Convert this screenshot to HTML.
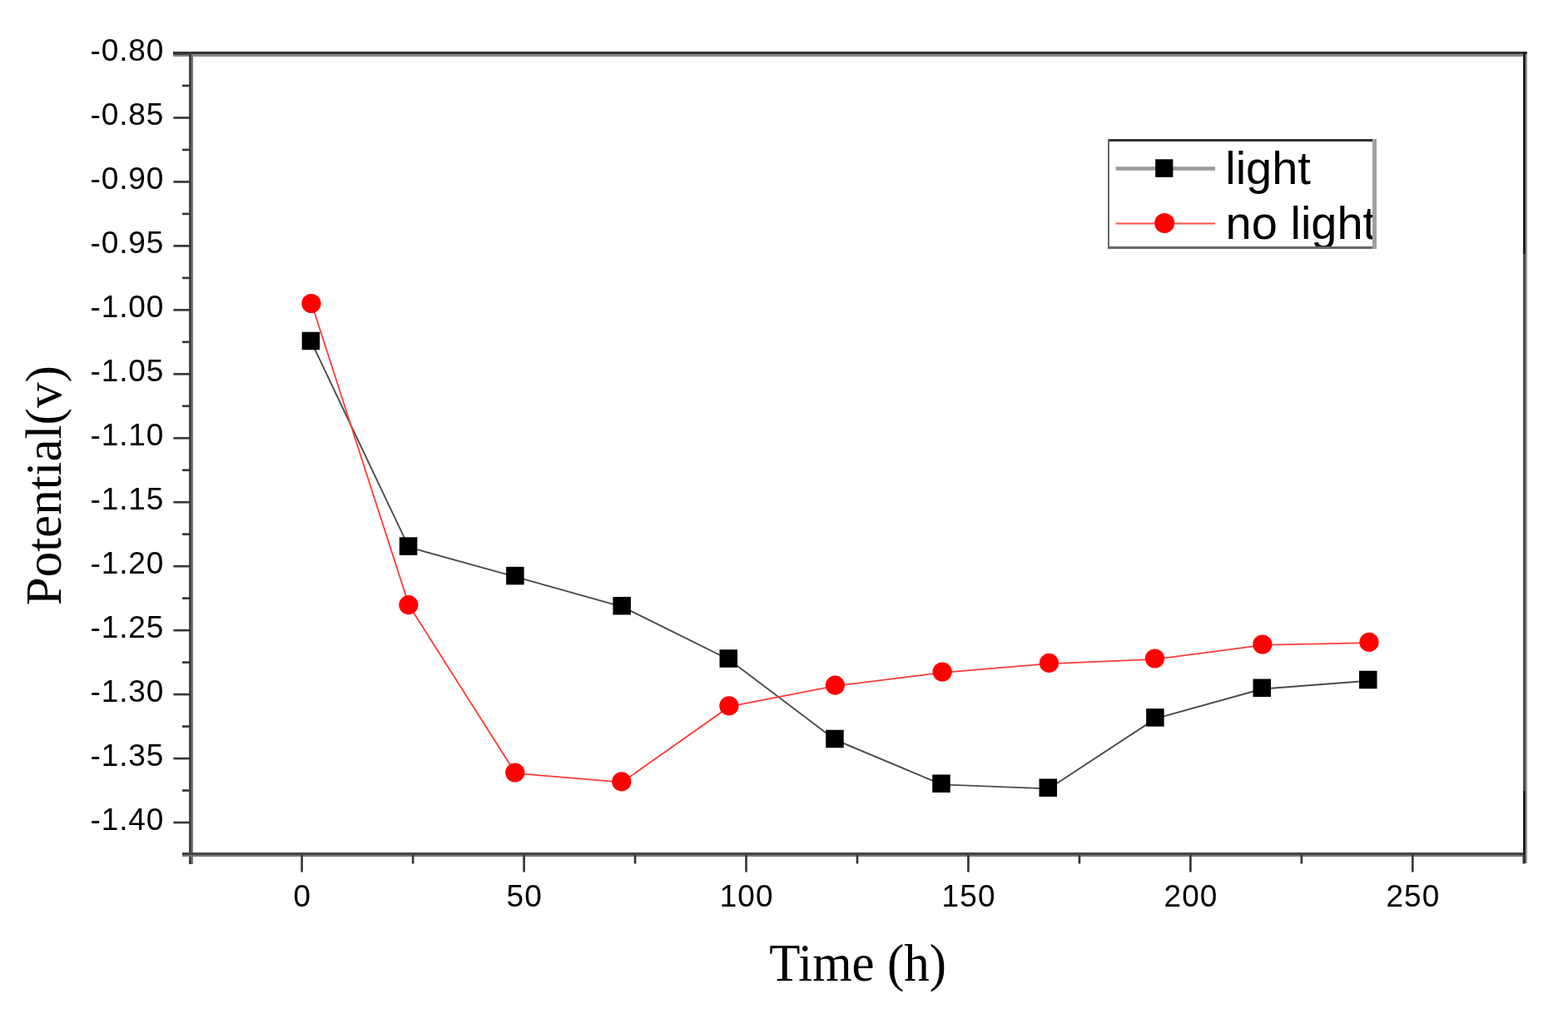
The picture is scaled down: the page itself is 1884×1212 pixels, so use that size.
<!DOCTYPE html><html><head><meta charset="utf-8"><style>html,body{margin:0;padding:0;background:#fff;overflow:hidden}svg{display:block}</style></head><body>
<svg width="1884" height="1212" viewBox="0 0 1884 1212">
<rect width="1884" height="1212" fill="#fff"/>
<g shape-rendering="crispEdges">
<rect x="208" y="62" width="1627" height="3" fill="#333"/>
<rect x="208" y="65" width="1627" height="2.5" fill="#888"/>
<rect x="227" y="62" width="2.7" height="976" fill="#444"/>
<rect x="229.7" y="65" width="2.5" height="973" fill="#777"/>
<rect x="219" y="1024.2" width="1616" height="2.6" fill="#444"/>
<rect x="219" y="1026.8" width="1616" height="2.6" fill="#777"/>
<rect x="1830" y="62" width="2.5" height="243" fill="#222"/>
<rect x="1830" y="305" width="2.5" height="645" fill="#4a4a4a"/>
<rect x="1830" y="950" width="2.5" height="87" fill="#222"/>
<rect x="1832.5" y="65" width="2.5" height="972" fill="#999"/>
</g>
<g stroke="#383838" stroke-width="2.7"><line x1="208.4" y1="64.50" x2="229" y2="64.50"/><line x1="219" y1="102.98" x2="229" y2="102.98"/><line x1="208.4" y1="141.46" x2="229" y2="141.46"/><line x1="219" y1="179.94" x2="229" y2="179.94"/><line x1="208.4" y1="218.42" x2="229" y2="218.42"/><line x1="219" y1="256.90" x2="229" y2="256.90"/><line x1="208.4" y1="295.38" x2="229" y2="295.38"/><line x1="219" y1="333.86" x2="229" y2="333.86"/><line x1="208.4" y1="372.34" x2="229" y2="372.34"/><line x1="219" y1="410.82" x2="229" y2="410.82"/><line x1="208.4" y1="449.30" x2="229" y2="449.30"/><line x1="219" y1="487.78" x2="229" y2="487.78"/><line x1="208.4" y1="526.26" x2="229" y2="526.26"/><line x1="219" y1="564.74" x2="229" y2="564.74"/><line x1="208.4" y1="603.22" x2="229" y2="603.22"/><line x1="219" y1="641.70" x2="229" y2="641.70"/><line x1="208.4" y1="680.18" x2="229" y2="680.18"/><line x1="219" y1="718.66" x2="229" y2="718.66"/><line x1="208.4" y1="757.14" x2="229" y2="757.14"/><line x1="219" y1="795.62" x2="229" y2="795.62"/><line x1="208.4" y1="834.10" x2="229" y2="834.10"/><line x1="219" y1="872.58" x2="229" y2="872.58"/><line x1="208.4" y1="911.06" x2="229" y2="911.06"/><line x1="219" y1="949.54" x2="229" y2="949.54"/><line x1="208.4" y1="988.02" x2="229" y2="988.02"/><line x1="362.70" y1="1027" x2="362.70" y2="1047.5"/><line x1="496.16" y1="1027" x2="496.16" y2="1037.5"/><line x1="629.62" y1="1027" x2="629.62" y2="1047.5"/><line x1="763.09" y1="1027" x2="763.09" y2="1037.5"/><line x1="896.55" y1="1027" x2="896.55" y2="1047.5"/><line x1="1030.01" y1="1027" x2="1030.01" y2="1037.5"/><line x1="1163.47" y1="1027" x2="1163.47" y2="1047.5"/><line x1="1296.94" y1="1027" x2="1296.94" y2="1037.5"/><line x1="1430.40" y1="1027" x2="1430.40" y2="1047.5"/><line x1="1563.86" y1="1027" x2="1563.86" y2="1037.5"/><line x1="1697.33" y1="1027" x2="1697.33" y2="1047.5"/><line x1="1830.79" y1="1027" x2="1830.79" y2="1037.5"/></g>
<g font-family="Liberation Sans, Arial, sans-serif" font-size="37" letter-spacing="0.9" fill="#000"><text x="197.3" y="73.20" text-anchor="end">-0.80</text><text x="197.3" y="150.16" text-anchor="end">-0.85</text><text x="197.3" y="227.12" text-anchor="end">-0.90</text><text x="197.3" y="304.08" text-anchor="end">-0.95</text><text x="197.3" y="381.04" text-anchor="end">-1.00</text><text x="197.3" y="458.00" text-anchor="end">-1.05</text><text x="197.3" y="534.96" text-anchor="end">-1.10</text><text x="197.3" y="611.92" text-anchor="end">-1.15</text><text x="197.3" y="688.88" text-anchor="end">-1.20</text><text x="197.3" y="765.84" text-anchor="end">-1.25</text><text x="197.3" y="842.80" text-anchor="end">-1.30</text><text x="197.3" y="919.76" text-anchor="end">-1.35</text><text x="197.3" y="996.72" text-anchor="end">-1.40</text></g>
<g font-family="Liberation Sans, Arial, sans-serif" font-size="37" letter-spacing="1.1" fill="#000"><text x="363.30" y="1088.5" text-anchor="middle">0</text><text x="630.23" y="1088.5" text-anchor="middle">50</text><text x="897.15" y="1088.5" text-anchor="middle">100</text><text x="1164.07" y="1088.5" text-anchor="middle">150</text><text x="1431.00" y="1088.5" text-anchor="middle">200</text><text x="1697.92" y="1088.5" text-anchor="middle">250</text></g>
<text transform="translate(924.2,1177.6) scale(0.975,1)" font-family="Liberation Serif, Times New Roman, serif" font-size="62.5" fill="#000">Time (h)</text>
<text transform="translate(72.5,727.3) rotate(-90)" font-family="Liberation Serif, Times New Roman, serif" font-size="61" fill="#000">Potential(v)</text>
<polyline points="374.1,410.7 491.2,657.3 619.5,692.8 747.8,728.9 875.9,792.2 1003.6,888.7 1131.6,942.4 1259.9,947.4 1388.5,863.1 1516.9,827.5 1644.4,817.7" fill="none" stroke="#4a4a4a" stroke-width="1.9"/>
<g fill="#000"><rect x="362.75" y="398.75" width="21.5" height="21.5"/><rect x="479.85" y="645.35" width="21.5" height="21.5"/><rect x="608.15" y="680.85" width="21.5" height="21.5"/><rect x="736.45" y="716.95" width="21.5" height="21.5"/><rect x="864.55" y="780.25" width="21.5" height="21.5"/><rect x="992.25" y="876.75" width="21.5" height="21.5"/><rect x="1120.25" y="930.45" width="21.5" height="21.5"/><rect x="1248.55" y="935.45" width="21.5" height="21.5"/><rect x="1377.15" y="851.15" width="21.5" height="21.5"/><rect x="1505.55" y="815.55" width="21.5" height="21.5"/><rect x="1633.05" y="805.75" width="21.5" height="21.5"/></g>
<polyline points="374.6,365.3 491.5,727.4 619.4,928.8 747.4,939.7 876.5,848.7 1004.0,823.9 1132.8,807.8 1261.1,797.2 1388.1,791.8 1517.5,774.8 1645.6,772.2" fill="none" stroke="#ff3b3b" stroke-width="1.8"/>
<g fill="#f00"><circle cx="374.0" cy="364.5" r="11.6"/><circle cx="490.9" cy="726.6" r="11.6"/><circle cx="618.8" cy="928.0" r="11.6"/><circle cx="746.8" cy="938.9" r="11.6"/><circle cx="875.9" cy="847.9" r="11.6"/><circle cx="1003.4" cy="823.1" r="11.6"/><circle cx="1132.2" cy="807.0" r="11.6"/><circle cx="1260.5" cy="796.4" r="11.6"/><circle cx="1387.5" cy="791.0" r="11.6"/><circle cx="1516.9" cy="774.0" r="11.6"/><circle cx="1645.0" cy="771.4" r="11.6"/></g>
<rect x="1331" y="168" width="321" height="130" fill="#fff"/>
<line x1="1340.6" y1="202.6" x2="1460" y2="202.6" stroke="#999" stroke-width="4.5"/>
<rect x="1388.2" y="191.3" width="21.2" height="21.5" fill="#000"/>
<line x1="1340.6" y1="268.5" x2="1460" y2="268.5" stroke="#ff5050" stroke-width="2"/>
<circle cx="1399.2" cy="268.1" r="12" fill="#f00"/>
<g font-family="Liberation Sans, Arial, sans-serif" font-size="56" fill="#000">
<text x="1472.2" y="220.7">light</text>
<text x="1472.6" y="287.3">no light</text>
</g>
<g shape-rendering="crispEdges">
<rect x="1330.8" y="167.2" width="321" height="2.4" fill="#333"/>
<rect x="1330.8" y="167.2" width="2.2" height="131.8" fill="#666"/>
<rect x="1330.8" y="296.4" width="321" height="2.6" fill="#666"/>
<rect x="1649.3" y="167.2" width="4.9" height="131.8" fill="#a0a0a0"/>
</g>
</svg></body></html>
